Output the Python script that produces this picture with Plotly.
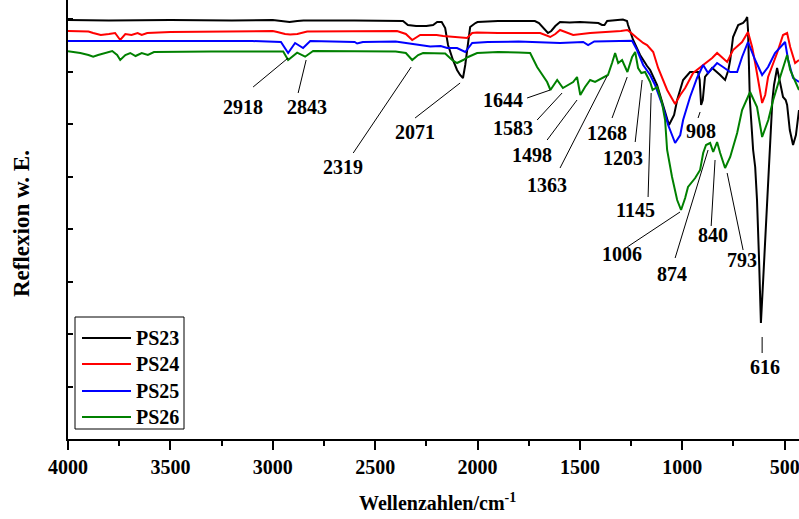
import plotly.graph_objects as go

# ---------------- data (wavenumber / cm^-1, reflectance in arbitrary units) ----------------
wn_ps23 = [4000, 3800, 3500, 3200, 3000, 2950, 2918, 2880, 2850, 2600, 2364, 2340, 2300, 2250, 2217,
           2197, 2175, 2158, 2144, 2120, 2100, 2085, 2071, 2060, 2051, 2036, 2010, 2000, 1900, 1720,
           1700, 1670, 1656, 1640, 1620, 1597, 1550, 1500, 1410, 1392, 1380, 1367, 1330, 1290, 1270,
           1265, 1240, 1206, 1172, 1157, 1123, 1094, 1075, 1065, 1040, 1025, 996, 962, 923, 915,
           908, 900, 889, 854, 815, 791, 775, 766, 752, 727, 703, 690, 683, 679, 670,
           654, 644, 635, 625, 616, 605, 590, 580, 571, 560, 552, 537, 525, 508, 495,
           488, 475, 459, 445, 430]
ps23 = [419, 418.5, 419, 418.5, 419, 418, 417, 418, 418.5, 418.5, 418, 414, 413, 413, 414,
        417, 417, 411, 394, 379, 369, 364, 361, 374, 389, 412, 416, 417, 418, 418,
        416, 409, 406, 408, 413, 417, 416.5, 417, 416, 414, 414, 418, 419, 419.5, 418,
        414, 399, 384, 373, 369, 354, 334, 319, 314, 324, 339, 359, 367, 367, 359,
        334, 339, 362, 371, 364, 359, 369, 379, 402, 414, 416, 419, 422, 409, 339,
        289, 272, 239, 179, 116, 159, 219, 269, 299, 339, 354, 371, 359, 342, 339,
        334, 309, 294, 304, 329]

wn_ps24 = [4000, 3900, 3877, 3840, 3800, 3770, 3745, 3720, 3690, 3660, 3640, 3613, 3500, 3300, 3000,
           2978, 2940, 2915, 2880, 2832, 2600, 2393, 2350, 2319, 2280, 2200, 2168, 2100, 2051, 2026,
           2003, 1900, 1694, 1645, 1620, 1597, 1560, 1533, 1450, 1367, 1300, 1269, 1255, 1221, 1191,
           1172, 1142, 1118, 1074, 1035, 1010, 986, 947, 898, 854, 830, 800, 781, 752, 708,
           679, 659, 644, 630, 610, 595, 581, 537, 508, 488, 473, 449, 430]
ps24 = [408, 407.5, 406, 404, 405, 406, 399, 405, 404, 406, 404, 406, 407, 407.5, 408,
        407, 405, 404.5, 405, 407.5, 408, 408, 405, 399, 404, 404, 403, 402, 401, 406,
        406.5, 406, 406, 402, 405, 409, 406, 404, 406, 407, 408, 409, 407, 401, 396,
        394, 387, 371, 349, 335, 344, 351, 366, 374, 381, 386, 381, 377, 389, 397,
        407, 392, 376, 359, 336, 344, 362, 386, 404, 406, 392, 376, 379]

wn_ps25 = [4000, 3700, 3400, 3100, 2960, 2925, 2891, 2852, 2817, 2600, 2588, 2560, 2400, 2314, 2231,
           2180, 2148, 2100, 2060, 2026, 1950, 1800, 1597, 1484, 1460, 1430, 1367, 1245, 1221, 1191,
           1157, 1133, 1094, 1069, 1035, 1010, 996, 962, 928, 898, 874, 830, 801, 766, 732,
           708, 679, 644, 610, 581, 547, 513, 498, 483, 459, 430]
ps25 = [398, 398, 397.5, 398, 397, 386, 396, 391, 398, 397, 395.5, 397, 397.5, 395, 392.5,
        393, 391, 391, 387, 396, 397, 397.5, 396, 397, 394, 397.5, 398, 398.3, 389, 374,
        364, 354, 332, 314, 296, 304, 319, 342, 361, 374, 366, 376, 372, 367, 367,
        382, 397, 379, 364, 372, 386, 394, 397, 379, 361, 357]

wn_ps26 = [4000, 3960, 3940, 3900, 3877, 3853, 3820, 3784, 3760, 3745, 3720, 3696, 3670, 3640, 3610,
           3580, 3300, 3000, 2949, 2925, 2881, 2842, 2803, 2400, 2350, 2319, 2290, 2266, 2158, 2124,
           2100, 2070, 2046, 2002, 1900, 1800, 1743, 1709, 1660, 1644, 1611, 1583, 1558, 1533, 1514,
           1498, 1475, 1450, 1426, 1392, 1363, 1343, 1328, 1313, 1294, 1268, 1245, 1230, 1216, 1200,
           1182, 1157, 1145, 1123, 1099, 1084, 1074, 1050, 1025, 1006, 986, 972, 937, 913, 898,
           884, 864, 849, 830, 815, 791, 766, 732, 708, 669, 635, 610, 580, 556, 522,
           498, 488, 473, 449, 430]
ps26 = [387.7, 387, 386, 384, 382.3, 384, 386, 388, 384, 379, 384, 386, 383, 386, 384,
        387, 387.5, 388, 387.5, 379, 386.3, 382.3, 388, 387.5, 386, 379, 384, 386, 385.5, 379,
        376, 379, 382, 386, 387, 386.5, 386, 372, 357, 349, 359, 351, 354, 357, 362,
        344, 352, 359, 357, 361, 364, 376, 386, 376, 379, 367, 382, 387, 371, 366,
        367, 357, 349, 352, 336, 319, 289, 262, 239, 229, 241, 252, 261, 269, 286,
        294, 296, 287, 297, 286, 271, 282, 306, 329, 347, 332, 302, 319, 339, 362,
        376, 384, 369, 357, 349]

series_names = ["PS23", "PS24", "PS25", "PS26"]
series_wn = [wn_ps23, wn_ps24, wn_ps25, wn_ps26]
series_val = [ps23, ps24, ps25, ps26]

x_tick_vals = [4000, 3500, 3000, 2500, 2000, 1500, 1000, 500]
x_tick_text = ["4000", "3500", "3000", "2500", "2000", "1500", "1000", "500"]

peak_labels = ["2918", "2843", "2319", "2071", "1644", "1583", "1498", "1363", "1268",
               "1203", "1145", "908", "1006", "874", "840", "793", "616"]

# ---------------- styling / layout ----------------
colors = ["#000000", "#ff0000", "#0000ff", "#008000"]
FONT = "Liberation Serif"

# label placement (text centre x,y ; leader start x,y ; leader end x,y) in axis units
label_pos = [
    (3144, 332, 3096, 352, 2925, 381),
    (2832, 332, 2876, 346, 2837, 379),
    (2656, 272, 2607, 286, 2324, 372),
    (2305, 307, 2305, 321, 2085, 356),
    (1875, 339, 1758, 341, 1645, 349),
    (1826, 311, 1709, 319, 1587, 346),
    (1733, 284, 1660, 299, 1514, 339),
    (1660, 254, 1597, 271, 1367, 363),
    (1367, 306, 1343, 321, 1269, 362),
    (1289, 281, 1230, 297, 1196, 359),
    (1230, 229, 1167, 242, 1152, 346),
    (908, 308, 923, 321, 913, 327),
    (1294, 185, 1269, 192, 1011, 227),
    (1050, 165, 1035, 181, 874, 289),
    (849, 204, 859, 213, 840, 279),
    (708, 179, 703, 189, 781, 266),
    (596, 72, 610, 102, 610, 86),
]

FIG_W, FIG_H = 799, 519
PL, PR, PT, PB = 68, 799, 0, 439          # plot area in window pixels
PW, PH = PR - PL, PB - PT

def pxx(p):
    return (p - PL) / PW

def pxy(p):
    return (PB - p) / PH

fig = go.Figure()
for name, wn, val, col in zip(series_names, series_wn, series_val, colors):
    fig.add_trace(go.Scatter(x=wn, y=val, mode="lines", name=name,
                             line=dict(color=col, width=2), showlegend=False,
                             hoverinfo="skip"))

shapes = []
annotations = []
for txt, (tx, ty, x0, y0, x1, y1) in zip(peak_labels, label_pos):
    annotations.append(dict(x=tx, y=ty, xref="x", yref="y", text="<b>%s</b>" % txt,
                            showarrow=False, xanchor="center", yanchor="middle",
                            font=dict(family=FONT, size=20, color="black")))
    shapes.append(dict(type="line", xref="x", yref="y", x0=x0, y0=y0, x1=x1, y1=y1,
                       line=dict(color="black", width=1)))

# manual legend
shapes.append(dict(type="rect", xref="paper", yref="paper",
                   x0=pxx(75), x1=pxx(184), y0=pxy(429), y1=pxy(317),
                   line=dict(color="black", width=1), fillcolor="white", layer="above"))
legend_rows = [338, 364, 391, 417]
for name, col, ry in zip(series_names, colors, legend_rows):
    shapes.append(dict(type="line", xref="paper", yref="paper",
                       x0=pxx(82), x1=pxx(131), y0=pxy(ry), y1=pxy(ry),
                       line=dict(color=col, width=2), layer="above"))
    annotations.append(dict(x=pxx(134), y=pxy(ry), xref="paper", yref="paper",
                            text="<b>%s</b>" % name, showarrow=False,
                            xanchor="left", yanchor="middle",
                            font=dict(family=FONT, size=20, color="black")))

# axis titles
annotations.append(dict(x=pxx(437), y=pxy(502), xref="paper", yref="paper",
                        text="<b>Wellenzahlen/cm<sup>-1</sup></b>", showarrow=False,
                        xanchor="center", yanchor="middle",
                        font=dict(family=FONT, size=20, color="black")))
annotations.append(dict(x=pxx(22), y=pxy(224), xref="paper", yref="paper",
                        text="<b>Reflexion w. E.</b>", showarrow=False, textangle=-90,
                        xanchor="center", yanchor="middle",
                        font=dict(family=FONT, size=23, color="black")))

fig.update_layout(
    width=FIG_W, height=FIG_H,
    margin=dict(l=PL, r=FIG_W - PR, t=PT, b=FIG_H - PB, pad=0),
    paper_bgcolor="white", plot_bgcolor="white",
    shapes=shapes, annotations=annotations,
    showlegend=False, hovermode=False,
    xaxis=dict(range=[4000, 430], tickmode="array", tickvals=x_tick_vals, ticktext=x_tick_text,
               ticks="outside", ticklen=9, tickwidth=2, tickcolor="black",
               ticklabeloverflow="allow",
               showline=True, linewidth=2, linecolor="black", mirror=False,
               showgrid=False, zeroline=False, automargin=False,
               minor=dict(dtick=250, tick0=0, ticks="outside", ticklen=5, tickwidth=2,
                          tickcolor="black", showgrid=False),
               tickfont=dict(family=FONT, size=20, color="black", weight="bold")),
    yaxis=dict(range=[0, PB - PT], showticklabels=False, ticks="inside", ticklen=5, tickwidth=2,
               tickcolor="black", tick0=0, dtick=52.5,
               showline=True, linewidth=2, linecolor="black", mirror=False,
               showgrid=False, zeroline=False, automargin=False),
)

# remove the default page margin and scrollbars so the figure fills the window exactly
page_fix = ("document.documentElement.style.margin='0';"
            "document.documentElement.style.overflow='hidden';"
            "document.body.style.margin='0';"
            "document.body.style.overflow='hidden';")
fig.write_html("out.html", post_script=page_fix,
               config={"displayModeBar": False, "staticPlot": True})
